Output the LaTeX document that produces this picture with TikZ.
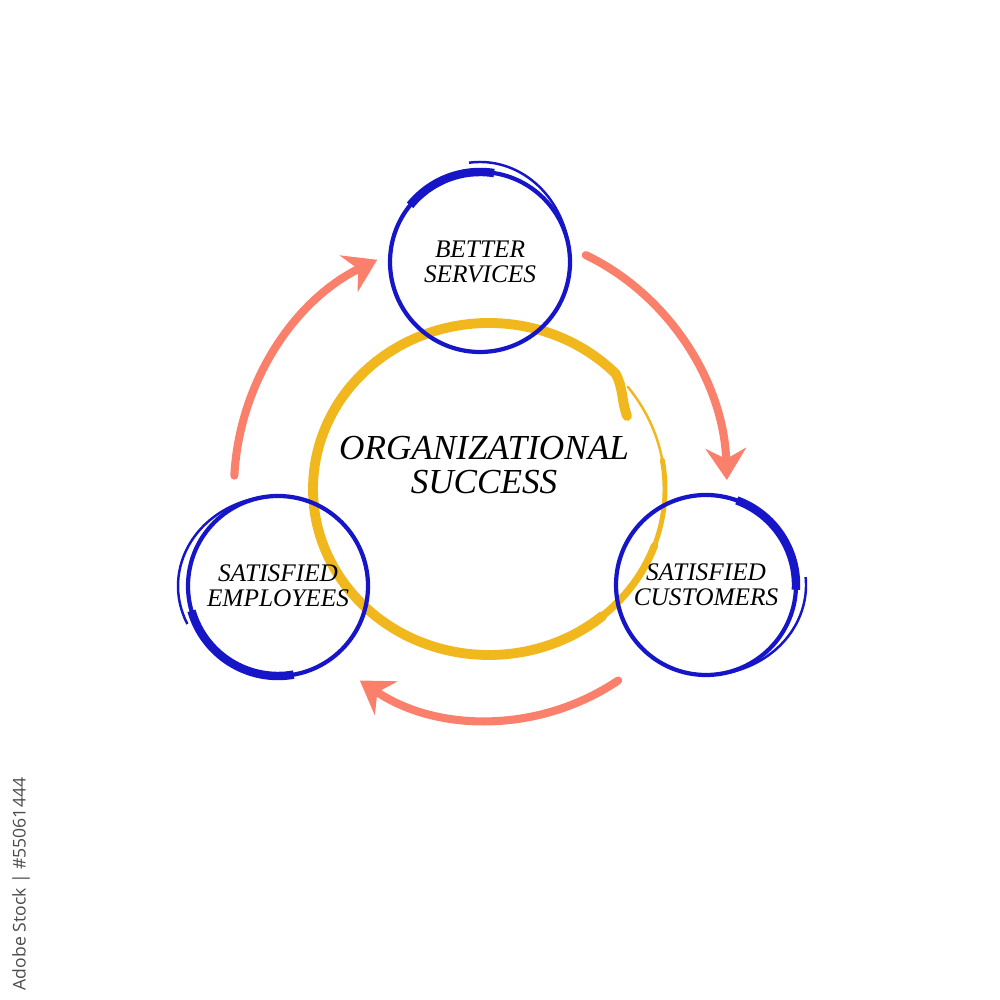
\documentclass[tikz,border=0pt]{standalone}
\usepackage{fontspec}
\newfontfamily\markfont{Open Sans}
\newfontfamily\handfont{Liberation Serif}
\usetikzlibrary{positioning,arrows.meta,calc}
\definecolor{ringblue}{RGB}{22,22,200}
\definecolor{hubgold}{RGB}{240,184,28}
\definecolor{flowred}{RGB}{250,128,108}

\begin{document}
\begin{tikzpicture}[
  >={Stealth[length=9pt, width=11.5pt, inset=3pt]},
  ring/.style={draw=ringblue, circle, line width=1.2pt, minimum size=18mm, inner sep=0pt, outer sep=0pt, align=center, font=\handfont\itshape\fontsize{7.2}{7.2}\selectfont},
  brush/.style={draw=ringblue, line width=2.4pt},
  tail/.style={draw=ringblue, line width=0.7pt},
  gold/.style={draw=hubgold, line cap=round},
  flow/.style={->, draw=flowred, line width=2.3pt, line cap=round}
]
  \path[use as bounding box, fill=white] (0,0) rectangle (10,10);
  \coordinate (hub) at (4.89,5.11);

  \draw[gold, line width=0.7pt] ($(hub)+(38:1.76 and 1.66)$) arc[start angle=38, end angle=10, x radius=1.76, y radius=1.66];
  \draw[gold, line width=1.4pt] ($(hub)+(10:1.76 and 1.66)$) arc[start angle=10, end angle=-20, x radius=1.76, y radius=1.66];
  \draw[gold, line width=2.1pt] ($(hub)+(-20:1.76 and 1.66)$) arc[start angle=-20, end angle=-50, x radius=1.76, y radius=1.66];
  \draw[gold, line width=2.8pt] ($(hub)+(-50:1.76 and 1.66)$) arc[start angle=-50, end angle=-316, x radius=1.76, y radius=1.66]
    to[out=-62, in=110] ($(hub)+(1.38,0.73)$);

  \node[font=\handfont\itshape\fontsize{10}{9.6}\selectfont, align=center] (org) at (4.84,5.35) {ORGANIZATIONAL\\SUCCESS};

  \node[ring] (serv) at (4.80,7.38) {BETTER\\SERVICES};
  \node[ring] (emp) at (2.78,4.14) {SATISFIED\\EMPLOYEES};
  \node[ring] (cust) at (7.06,4.15) {SATISFIED\\CUSTOMERS};

  \draw[brush] (serv.81) arc[start angle=81, end angle=141, radius=0.9];
  \draw[tail] (serv.east) arc[start angle=0, end angle=97, x radius=0.9, y radius=1.0];
  \draw[brush] (emp.196) arc[start angle=196, end angle=280, radius=0.9];
  \draw[tail] (emp.north) arc[start angle=90, end angle=205, x radius=1.0, y radius=0.9];
  \draw[brush] (cust.70) arc[start angle=70, end angle=-3, radius=0.9];
  \draw[tail] (cust.south) arc[start angle=-90, end angle=5, x radius=1.0, y radius=0.9];

  \coordinate (f1) at ($(hub)+(177:2.55)$);
  \coordinate (f2) at ($(hub)+(66:2.38 and 2.56)$);
  \coordinate (f3) at ($(hub)+(-56:2.31)$);
  \draw[flow] (f1) arc[start angle=177, end angle=116, radius=2.55];
  \draw[flow] (f2) arc[start angle=66, end angle=2, x radius=2.38, y radius=2.56];
  \draw[flow] (f3) arc[start angle=-56, end angle=-124, radius=2.31];

  \node[rotate=90, font=\markfont\fontsize{5}{6}\selectfont, text=black!70] (stock) at (0.21,1.16) {Adobe Stock | \#55061444};
\end{tikzpicture}
\end{document}
